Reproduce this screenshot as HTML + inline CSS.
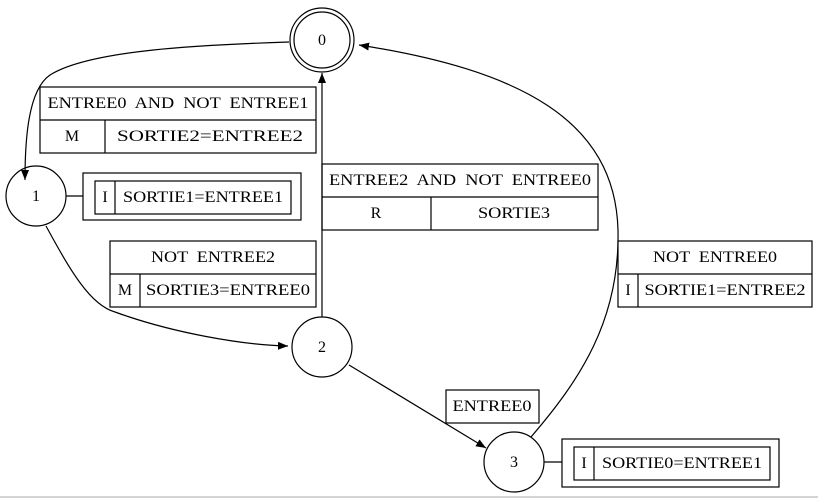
<!DOCTYPE html>
<html><head><style>body{margin:0;background:#fff}svg{display:block}</style></head>
<body>
<svg width="818" height="499" viewBox="0 0 818 499" xmlns="http://www.w3.org/2000/svg">
<defs><marker id="a" markerWidth="10" markerHeight="8" refX="10" refY="4" orient="auto" markerUnits="userSpaceOnUse"><path d="M0,0 L10,4 L0,8 z" fill="#000"/></marker></defs>
<g fill="none" stroke="#000" stroke-width="1.2">
<circle cx="322" cy="40" r="32"/><circle cx="322" cy="40" r="28"/>
<circle cx="36" cy="196" r="30"/>
<circle cx="322" cy="347" r="30"/>
<circle cx="514" cy="462" r="30"/>
<path d="M289,42 C200,45 90,50 50,75 C28,90 25,140 25,180" marker-end="url(#a)"/>
<path d="M46,226 C70,270 90,305 115,312 C170,332 240,345 288,346" marker-end="url(#a)"/>
<path d="M322,317 L322,73" marker-end="url(#a)"/>
<path d="M349,365 L486,448" marker-end="url(#a)"/>
<path d="M531,437 C580,380 620,320 618,230 C615,120 520,70 359,45" marker-end="url(#a)"/>
<line x1="66" y1="196" x2="83" y2="196"/>
<line x1="544" y1="462" x2="562" y2="462"/>
<rect x="40" y="87" width="276" height="66"/><line x1="40" y1="120" x2="316" y2="120"/><line x1="105" y1="120" x2="105" y2="153"/>
<rect x="83" y="173" width="218" height="47"/><rect x="95" y="181" width="196" height="33"/><line x1="115" y1="181" x2="115" y2="214"/>
<rect x="110" y="241" width="206" height="66"/><line x1="110" y1="274" x2="316" y2="274"/><line x1="140" y1="274" x2="140" y2="307"/>
<rect x="322" y="164" width="276" height="66"/><line x1="322" y1="197" x2="598" y2="197"/><line x1="431" y1="197" x2="431" y2="230"/>
<rect x="618" y="241" width="194" height="66"/><line x1="618" y1="274" x2="812" y2="274"/><line x1="638" y1="274" x2="638" y2="307"/>
<rect x="446" y="390" width="93" height="33"/>
<rect x="562" y="439" width="217" height="48"/><rect x="574" y="447" width="196" height="33"/><line x1="594" y1="447" x2="594" y2="480"/>
</g>
<line x1="0" y1="497" x2="818" y2="497" stroke="#aaa" stroke-width="1"/>
<g text-anchor="middle" font-family="Liberation Serif, serif" font-size="16" fill="#000" lengthAdjust="spacingAndGlyphs">
<text x="322" y="45">0</text><text x="36" y="201">1</text><text x="322" y="352">2</text><text x="514" y="467">3</text>
<text x="178" y="108" xml:space="preserve" textLength="261" lengthAdjust="spacingAndGlyphs">ENTREE0  AND  NOT  ENTREE1</text>
<text x="72" y="141">M</text><text x="210" y="141" textLength="186" lengthAdjust="spacingAndGlyphs">SORTIE2=ENTREE2</text>
<text x="105" y="202">I</text><text x="203" y="202" textLength="160" lengthAdjust="spacingAndGlyphs">SORTIE1=ENTREE1</text>
<text x="213" y="262" xml:space="preserve" textLength="124" lengthAdjust="spacingAndGlyphs">NOT  ENTREE2</text>
<text x="125" y="295">M</text><text x="228" y="295" textLength="164" lengthAdjust="spacingAndGlyphs">SORTIE3=ENTREE0</text>
<text x="460" y="185" xml:space="preserve" textLength="262" lengthAdjust="spacingAndGlyphs">ENTREE2  AND  NOT  ENTREE0</text>
<text x="376" y="218">R</text><text x="514" y="218" textLength="72" lengthAdjust="spacingAndGlyphs">SORTIE3</text>
<text x="715" y="262" xml:space="preserve" textLength="124" lengthAdjust="spacingAndGlyphs">NOT  ENTREE0</text>
<text x="628" y="295">I</text><text x="725" y="295" textLength="161" lengthAdjust="spacingAndGlyphs">SORTIE1=ENTREE2</text>
<text x="492" y="411" textLength="79" lengthAdjust="spacingAndGlyphs">ENTREE0</text>
<text x="584" y="468">I</text><text x="682" y="468" textLength="160" lengthAdjust="spacingAndGlyphs">SORTIE0=ENTREE1</text>
</g>
</svg>
</body></html>
